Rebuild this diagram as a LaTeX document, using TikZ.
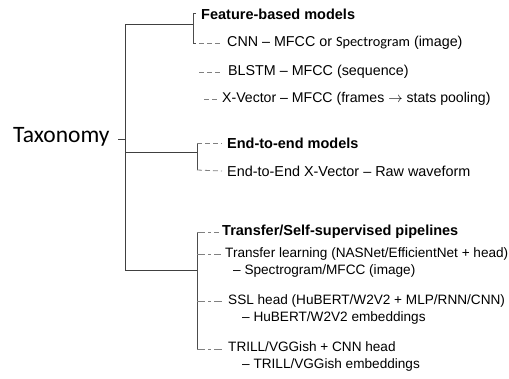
\documentclass[tikz,border=0pt]{standalone}
\usepackage{fontspec}
\setmainfont{Liberation Sans}
\newfontfamily\carlito{Carlito}
\begin{document}
\begin{tikzpicture}[x=1pt,y=-1pt,
  trunk/.style={draw=black!75, line width=0.9pt},
  bracket/.style={draw=black!70, line width=0.6pt},
  dashlink/.style={draw=black!50, line width=0.8pt, dash pattern=on 5pt off 3pt},
  dotlink/.style={dashlink, dash pattern=on 8pt off 3pt on 3pt off 3pt},
  leaf/.style={anchor=west, inner sep=0pt, font=\fontsize{14.3}{17}\selectfont},
  midleaf/.style={anchor=west, inner sep=0pt, font=\fontsize{14.4}{17}\selectfont},
  subleaf/.style={anchor=west, inner sep=0pt, align=left, font=\fontsize{13.6}{17}\selectfont},
  head/.style={anchor=west, inner sep=0pt, font=\fontsize{14.5}{17}\selectfont\bfseries}]
\useasboundingbox (0,0) rectangle (509,378);

% root
\node[anchor=west, inner sep=0pt, font=\carlito\fontsize{23.5}{27}\selectfont] (root) at (13,137) {Taxonomy};
\coordinate (spinetop) at (125,24);
\coordinate (spinemid) at (125,139);
\coordinate (spinee2e) at (125,152);
\coordinate (spinebot) at (125,270);
\draw[trunk] (118,139) -- (spinemid);
\draw[trunk] (spinetop) -- (spinebot);

% feature-based branch
\node[head] (fb) at (201,14) {Feature-based models};
\node[leaf] (cnn) at (227,43) {CNN -- MFCC or {\carlito Spectrogram} (image)};
\node[leaf] (blstm) at (228,72) {BLSTM -- MFCC (sequence)};
\node[leaf, font=\fontsize{14.1}{17}\selectfont] (xvec) at (222,99) {X-Vector -- MFCC (frames $\rightarrow$ stats pooling)};
\coordinate (fbk) at (193,24);
\coordinate (fbt) at (193,13);
\coordinate (fbb) at (193,43);
\draw[trunk] (spinetop) -- (fbk);
\draw[bracket] ([xshift=3pt]fbt) -- (fbt) -- (fbb) -- ([xshift=3pt]fbb);
\draw[dashlink] ([xshift=6pt]fbb) -- ([xshift=-5pt]cnn.west);
\coordinate (bl0) at (199,72);
\draw[dashlink] (bl0) -- ([xshift=-6pt]blstm.west);
\coordinate (xv0) at (204,99);
\draw[dashlink] (xv0) -- ([xshift=-5pt]xvec.west);

% end-to-end branch
\node[head] (e2e) at (227,143) {End-to-end models};
\node[midleaf] (e2exv) at (227,171) {End-to-End X-Vector -- Raw waveform};
\coordinate (e2ek) at (197,152);
\coordinate (e2et) at (197,143);
\coordinate (e2eb) at (197,170);
\draw[trunk] (spinee2e) -- (e2ek);
\draw[bracket] (e2et) -- (e2eb);
\draw[dashlink] (e2et) -- ([xshift=-5pt]e2e.west);
\draw[dashlink] (e2eb) -- ([xshift=-5pt]e2exv.west);

% transfer / self-supervised branch
\node[head] (tsp) at (222,232) {Transfer/Self-supervised pipelines};
\node[subleaf] (tl) at (225,262.5) {Transfer learning (NASNet/EfficientNet + head)\\\hspace*{8pt}-- Spectrogram/MFCC (image)};
\node[subleaf] (ssl) at (228,309.5) {SSL head (HuBERT/W2V2 + MLP/RNN/CNN)\\\hspace*{14pt}-- HuBERT/W2V2 embeddings};
\node[subleaf] (trill) at (228,356.5) {TRILL/VGGish + CNN head\\\hspace*{14pt}-- TRILL/VGGish embeddings};
\coordinate (tk) at (197,270);
\coordinate (tt) at (197,232);
\coordinate (tb) at (197,349);
\coordinate (tl0) at (197,254);
\coordinate (ssl0) at (197,301);
\draw[trunk] (spinebot) -- (tk);
\draw[bracket] (tt) -- (tb);
\draw[dotlink] (tt) -- ([xshift=-3pt]tsp.west);
\draw[dotlink] (tl0) -- ([xshift=-4pt]tl.west |- tl0);
\draw[dotlink] (ssl0) -- ([xshift=-5pt]ssl.west |- ssl0);
\draw[dotlink] (tb) -- ([xshift=-5pt]trill.west |- tb);
\end{tikzpicture}
\end{document}
